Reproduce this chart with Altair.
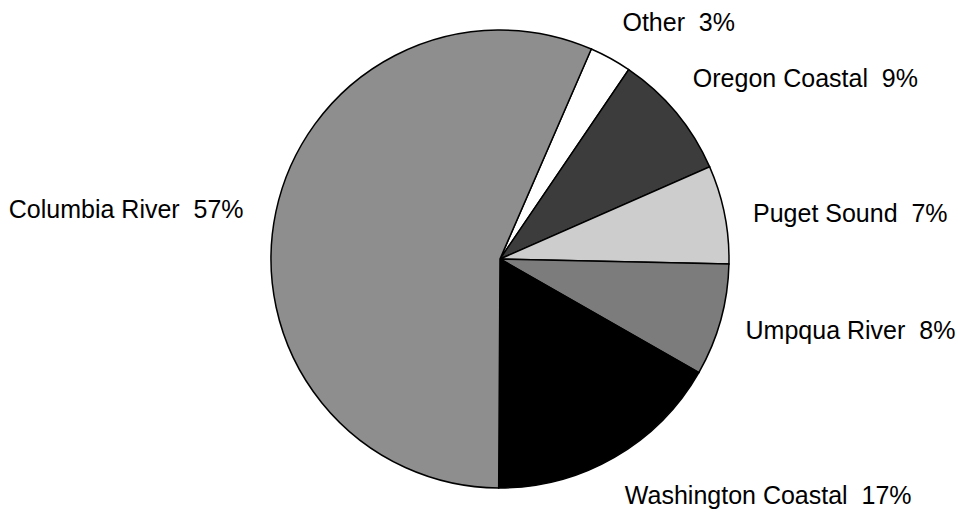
import math
import altair as alt
import pandas as pd

regions = ["Other", "Oregon Coastal", "Puget Sound", "Umpqua River", "Washington Coastal", "Columbia River"]
percents = [3, 9, 7, 8, 17, 57]
labels = ["Other\u00a0 3%", "Oregon Coastal\u00a0 9%", "Puget Sound\u00a0 7%", "Umpqua River\u00a0 8%",
          "Washington Coastal\u00a0 17%", "Columbia River\u00a0 57%"]
fills = ["#ffffff", "#3c3c3c", "#cdcdcd", "#7c7c7c", "#000000", "#8e8e8e"]

df = pd.DataFrame({
    "region": regions,
    "pct": percents,
    "label": labels,
    "idx": list(range(len(regions))),
})

start = math.radians(23.5)
theta = alt.Theta("pct:Q", stack=True, scale=alt.Scale(range=[start, start + 2 * math.pi]))
order = alt.Order("idx:Q", sort="ascending")
cx, cy = 492, 251

base = alt.Chart(df).encode(theta=theta, order=order)

pie = base.mark_arc(outerRadius=229, stroke="black", strokeWidth=1.5).encode(
    color=alt.Color("region:N", scale=alt.Scale(domain=regions, range=fills), legend=None),
    x=alt.value(cx), y=alt.value(cy),
)

font = dict(font="Liberation Sans", fontSize=25, color="black", baseline="middle")

# label placement tweaks (dx, dy, align) per region
tweaks = {
    "Other": (-3, -8, "left"),
    "Oregon Coastal": (-7, -14, "left"),
    "Puget Sound": (-2, 6, "left"),
    "Umpqua River": (-5, 3, "left"),
    "Washington Coastal": (-5, 12, "left"),
    "Columbia River": (-2, 5, "right"),
}

label_layers = []
for name in regions:
    dx, dy, align = tweaks[name]
    label_layers.append(
        base.mark_text(radius=260, align=align, dx=dx, dy=dy, **font).encode(
            text=alt.condition(f"datum.region == '{name}'", alt.Text("label:N"), alt.value("")),
            x=alt.value(cx), y=alt.value(cy),
        )
    )

chart = alt.layer(pie, *label_layers).properties(
    width=951, height=505, autosize="none", padding=0
).configure_view(stroke=None)

chart.save("out.html", embed_options={"renderer": "svg", "actions": False})
